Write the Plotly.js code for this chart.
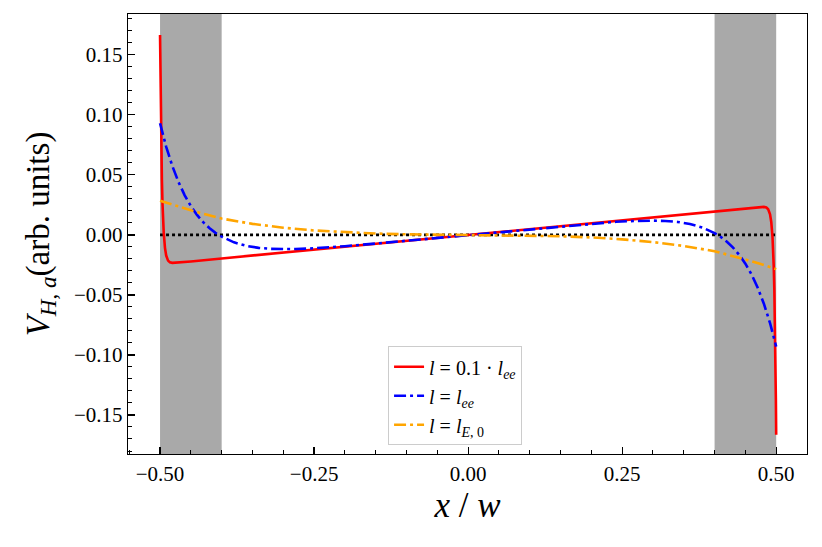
<!DOCTYPE html>
<html>
<head>
<meta charset="utf-8">
<script src="https://cdn.plot.ly/plotly-3.0.1.min.js"></script>
<style>
  html, body { margin: 0; padding: 0; background: #fff; }
  #chart { width: 822px; height: 547px; }
</style>
</head>
<body>
<div id="chart"></div>
<script>
// values, left half; right half is the mirror (odd curves)
var xRed = [-0.5, -0.4995, -0.499, -0.4985, -0.498, -0.497, -0.496, -0.495, -0.494, -0.492, -0.49,
            -0.487, -0.484, -0.48, -0.475, -0.47, -0.45, -0.4, -0.3, -0.2, -0.1, 0];
var yRed = [0.1665, 0.1372, 0.1124, 0.0914, 0.0737, 0.0459, 0.0260, 0.0118, 0.0016, -0.0108, -0.0172,
            -0.0214, -0.0228, -0.0233, -0.0232, -0.0230, -0.0221, -0.0196, -0.0147, -0.0098, -0.0049, 0];

var xBlue = [-0.5, -0.49, -0.48, -0.47, -0.46, -0.45, -0.44, -0.43, -0.42, -0.41, -0.4,
             -0.38, -0.36, -0.34, -0.32, -0.3, -0.28, -0.26, -0.24, -0.22, -0.2, -0.15, -0.1, -0.05, 0];
var yBlue = [0.0930, 0.0734, 0.0573, 0.0440, 0.0330, 0.0240, 0.0166, 0.0106, 0.0057, 0.0017, -0.0015,
             -0.0062, -0.0091, -0.0108, -0.0116, -0.0119, -0.0118, -0.0114, -0.0109, -0.0102, -0.0094, -0.0072, -0.0049, -0.00245, 0];

var xOrange = [-0.5, -0.475, -0.45, -0.425, -0.4, -0.35, -0.3, -0.25, -0.2, -0.15, -0.1, -0.05, 0];
var yOrange = [0.0285, 0.0243, 0.0205, 0.0169, 0.0136, 0.0092, 0.0060, 0.0037, 0.0021, 0.0011, 0.0005, 0.0001, 0];

var names = ["<i>l</i> = 0.1 · <i>l</i><sub><i>ee</i></sub>",
             "<i>l</i> = <i>l</i><sub><i>ee</i></sub>",
             "<i>l</i> = <i>l</i><sub><i>E</i>, 0</sub>"];

// contact regions (shaded) and the zero line
var bands = [[-0.5, -0.4], [0.4, 0.5]];
var zeroX = [-0.5, 0.5];
var zeroY = [0, 0];

// build the full curve from the left half: f(-x) = -f(x)
function mirror(xs, ys) {
  var X = xs.slice(), Y = ys.slice();
  for (var i = xs.length - 2; i >= 0; i--) {
    X.push(-xs[i]);
    Y.push(-ys[i]);
  }
  return [X, Y];
}

var red = mirror(xRed, yRed);
var blue = mirror(xBlue, yBlue);
var orange = mirror(xOrange, yOrange);

var serif = "Liberation Serif";

var data = [
  {
    x: zeroX, y: zeroY, mode: "lines", showlegend: false, hoverinfo: "skip",
    line: { color: "black", width: 2.6, dash: "dot" }
  },
  {
    x: red[0], y: red[1], mode: "lines", name: names[0],
    line: { color: "#ff0000", width: 2.6 }
  },
  {
    x: blue[0], y: blue[1], mode: "lines", name: names[1],
    line: { color: "#0000ff", width: 2.6, dash: "12px,4px,3px,4px" }
  },
  {
    x: orange[0], y: orange[1], mode: "lines", name: names[2],
    line: { color: "#ffa500", width: 2.6, dash: "12px,4px,3px,4px" }
  }
];

var shapes = bands.map(function (b) {
  return {
    type: "rect", xref: "x", yref: "paper", x0: b[0], x1: b[1], y0: 0, y1: 1,
    fillcolor: "#a9a9a9", line: { width: 0 }, layer: "below"
  };
});

var layout = {
  width: 822,
  height: 547,
  margin: { l: 128, r: 15, t: 14, b: 93 },
  paper_bgcolor: "white",
  plot_bgcolor: "white",
  font: { family: serif, color: "black", size: 20 },
  showlegend: true,
  legend: {
    x: 0.383, y: 0.245, xanchor: "left", yanchor: "top",
    bgcolor: "white", bordercolor: "#cccccc", borderwidth: 1,
    font: { family: serif, size: 20 },
    tracegroupgap: 0
  },
  xaxis: {
    range: [-0.552, 0.55],
    tickvals: [-0.5, -0.25, 0, 0.25, 0.5],
    ticktext: ["\u22120.50", "\u22120.25", "0.00", "0.25", "0.50"],
    ticks: "inside", ticklen: 7, tickwidth: 1.2, tickcolor: "black",
    minor: { ticks: "inside", ticklen: 4, tickwidth: 1, dtick: 0.05, tick0: 0, tickcolor: "black" },
    showline: true, linecolor: "black", linewidth: 1.3, mirror: true,
    showgrid: false, zeroline: false,
    tickfont: { family: serif, size: 21 },
    title: { text: "<i>x</i> / <i>w</i>", font: { family: serif, size: 35 }, standoff: 8 }
  },
  yaxis: {
    range: [-0.1825, 0.184],
    tickvals: [-0.15, -0.1, -0.05, 0, 0.05, 0.1, 0.15],
    ticktext: ["\u22120.15", "\u22120.10", "\u22120.05", "0.00", "0.05", "0.10", "0.15"],
    ticks: "inside", ticklen: 7, tickwidth: 1.2, tickcolor: "black",
    minor: { ticks: "inside", ticklen: 4, tickwidth: 1, dtick: 0.01, tick0: 0, tickcolor: "black" },
    showline: true, linecolor: "black", linewidth: 1.3, mirror: true,
    showgrid: false, zeroline: false,
    tickfont: { family: serif, size: 21 },
    title: { text: "<i>V</i><sub><i>H</i>, <i>a</i></sub>(arb. units)", font: { family: serif, size: 33 }, standoff: 14 }
  },
  shapes: shapes
};

Plotly.newPlot("chart", data, layout, { displayModeBar: false, staticPlot: true });
</script>
</body>
</html>
